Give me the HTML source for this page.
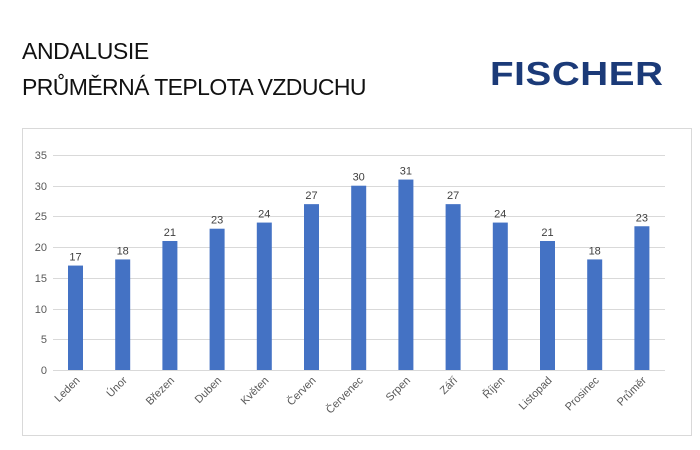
<!DOCTYPE html>
<html><head><meta charset="utf-8"><style>
body{margin:0;width:700px;height:450px;background:#fff;overflow:hidden;font-family:"Liberation Sans",sans-serif}
.t{position:absolute;left:22px;font-size:23px;color:#111;letter-spacing:-0.4px}
.logo{position:absolute;left:490px;top:55px;font-size:33px;font-weight:bold;color:#1b3a78;letter-spacing:0.5px;transform:scaleX(1.17);transform-origin:left}
</style></head><body>
<div class="t" style="top:38px">ANDALUSIE</div>
<div class="t" style="top:74px;letter-spacing:-0.6px">PRŮMĚRNÁ TEPLOTA VZDUCHU</div>
<div class="logo">FISCHER</div>
<svg style="position:absolute;left:0;top:0" width="700" height="450" font-family="Liberation Sans, sans-serif">
<rect x="22.5" y="128.5" width="669" height="307" fill="none" stroke="#d9d9d9"/>
<g stroke="#d9d9d9" stroke-width="1">
<line x1="53" x2="665" y1="155.5" y2="155.5"/><line x1="53" x2="665" y1="186.5" y2="186.5"/>
<line x1="53" x2="665" y1="216.5" y2="216.5"/><line x1="53" x2="665" y1="247.5" y2="247.5"/>
<line x1="53" x2="665" y1="278.5" y2="278.5"/><line x1="53" x2="665" y1="309.5" y2="309.5"/>
<line x1="53" x2="665" y1="339.5" y2="339.5"/><line x1="53" x2="665" y1="370.5" y2="370.5"/>
</g>
<g font-size="11" fill="#595959" text-anchor="end">
<text x="47" y="159">35</text><text x="47" y="190">30</text><text x="47" y="220">25</text><text x="47" y="251">20</text><text x="47" y="282">15</text><text x="47" y="313">10</text><text x="47" y="343">5</text><text x="47" y="374">0</text>
</g>
<g id="bars" fill="#4472c4"></g>
<g id="lbl" font-size="11" fill="#404040" text-anchor="middle"></g>
<g id="xl" font-size="11" fill="#595959" text-anchor="end"></g>
</svg>
<script>
var n=["Leden","Únor","Březen","Duben","Květen","Červen","Červenec","Srpen","Září","Říjen","Listopad","Prosinec","Průměr"];
var v=[17,18,21,23,24,27,30,31,27,24,21,18,23.4];
var ns="http://www.w3.org/2000/svg";
var b=document.getElementById("bars"),l=document.getElementById("lbl"),x=document.getElementById("xl");
for(var i=0;i<13;i++){var c=75.5+47.2*i,h=v[i]*6.143,y=370-h;
var r=document.createElementNS(ns,"rect");r.setAttribute("x",c-7.5);r.setAttribute("y",y);r.setAttribute("width",15);r.setAttribute("height",h);b.appendChild(r);
var t=document.createElementNS(ns,"text");t.setAttribute("x",c);t.setAttribute("y",y-5);t.textContent=Math.round(v[i]);l.appendChild(t);
var s=document.createElementNS(ns,"text");s.setAttribute("transform","translate("+(c+5)+",381) rotate(-45)");s.textContent=n[i];x.appendChild(s);}
</script>
</body></html>
